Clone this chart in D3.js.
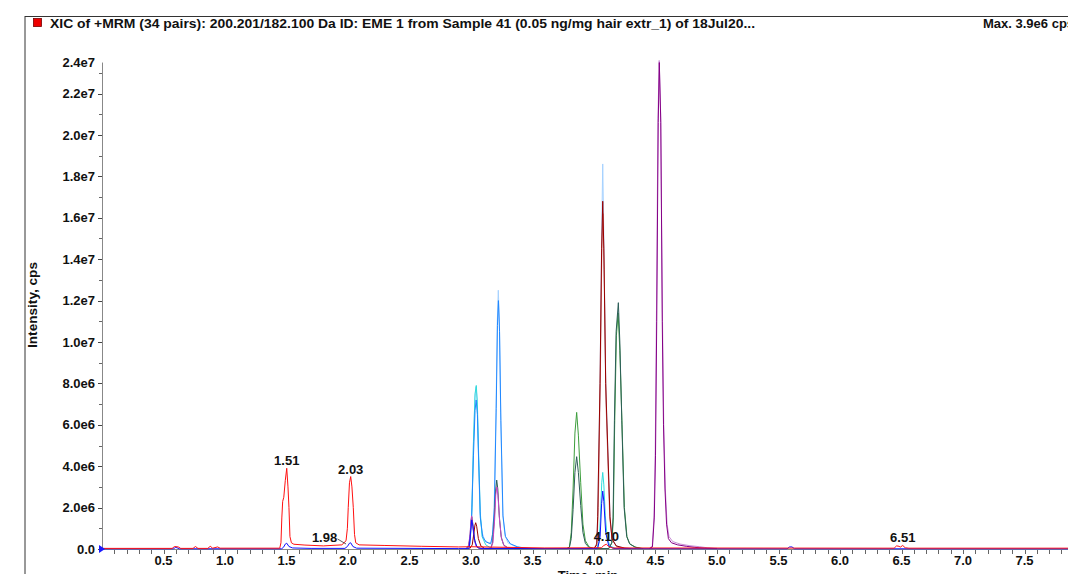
<!DOCTYPE html>
<html>
<head>
<meta charset="utf-8">
<script src="https://d3js.org/d3.v7.min.js"></script>
<style>
  body { margin: 0; background: #fff; }
  text { font-family: "Liberation Sans", Arial, sans-serif; font-weight: bold; fill: #111; }
</style>
</head>
<body>
<div id="chart"></div>
<script>
// chromatogram traces: [time (min), intensity (cps)]
var redTrace = [[0.0,3e4],[0.57,3e4],[0.59,1.2e5],[0.62,1e5],[0.64,3e4],[0.74,3e4],[0.76,1.2e5],[0.78,3e4],[0.86,3e4],[0.88,1.3e5],[0.9,4e4],[0.94,1e5],[0.96,4e4],
  [1.445,4e4],[1.455,3e5],[1.462,1.5e6],[1.469,2.3e6],[1.478,2.5e6],[1.49,3.3e6],[1.502,3.9e6],[1.512,3.0e6],[1.52,2.0e6],[1.528,6e5],[1.54,3e5],[1.56,2.3e5],
  [1.65,1.9e5],[1.8,1.5e5],[1.95,2e5],[1.984,4e5],[1.995,1.0e6],[2.002,2e6],[2.012,3.2e6],[2.022,3.5e6],[2.032,3.0e6],[2.043,2e6],[2.053,7e5],[2.063,3e5],
  [2.09,2e5],[2.3,1.7e5],[2.6,1.3e5],[2.9,1e5],[3.0,1.1e5],[3.3,8e4],[3.6,5e4],[4.06,6e4],[4.08,1.7e5],[4.10,2.3e5],[4.12,1.2e5],[4.15,5e4],
  [6.44,4e4],[6.46,1.5e5],[6.48,1.3e5],[6.49,9e4],[6.51,1.7e5],[6.53,6e4],[6.56,4e4],[7.9,4e4]];
var blueTrace = [[0,1e4],[0.58,1e4],[0.6,8e4],[0.63,1e4],[1.46,1e4],[1.475,8e4],[1.492,2.5e5],[1.502,2.8e5],[1.52,1.2e5],[1.55,5e4],[1.7,3e4],[1.975,3e4],
  [1.995,1.2e5],[2.012,2.8e5],[2.022,3e5],[2.04,1.2e5],[2.07,4e4],[2.9,2e4],[2.985,2e4],[2.998,9e5],[3.006,1.4e6],[3.016,1.1e6],[3.03,4e5],[3.05,8e4],[3.08,2e4],
  [4.03,2e4],[4.05,6e5],[4.062,2.2e6],[4.071,2.8e6],[4.08,2.3e6],[4.095,8e5],[4.12,1.5e5],[4.16,2e4],[5.57,1e4],[5.59,1e5],[5.61,1e5],[5.63,1e4],[7.9,1e4]];
var lightBlueTrace = [[2.96,2e4],[2.985,1e5],[2.995,6e5],[3.006,1.7e6],[3.019,4.9e6],[3.032,7.3e6],[3.041,7.84e6],[3.05,7.2e6],[3.059,4.9e6],[3.073,1.7e6],
  [3.09,8e5],[3.11,4.5e5],[3.14,3e5],[3.165,3e5],[3.176,8e5],[3.187,1.7e6],[3.203,6.6e6],[3.214,11e6],[3.222,12.5e6],[3.231,11e6],[3.241,6.6e6],[3.258,1.7e6],
  [3.275,7e5],[3.3,3e5],[3.35,1.5e5],[3.41,6e4],[3.5,2e4],
  [4.0,2e4],[4.022,2e5],[4.03,1.6e6],[4.049,8e6],[4.062,15e6],[4.071,18.6e6],[4.08,15e6],[4.095,8e6],[4.13,1.6e6],[4.146,5e5],[4.18,1.5e5],[4.25,5e4],[4.35,2e4]];
var dodgerTrace = [[2.96,2e4],[2.99,2e5],[3.005,1.5e6],[3.02,4.5e6],[3.033,6.7e6],[3.042,7.2e6],[3.052,6.5e6],[3.062,4.3e6],[3.076,1.5e6],[3.095,6e5],
  [3.12,3.5e5],[3.16,2.5e5],[3.175,7e5],[3.19,2e6],[3.205,6.8e6],[3.215,10.8e6],[3.223,12.0e6],[3.232,10.5e6],[3.243,6.2e6],[3.26,1.6e6],[3.28,6e5],
  [3.32,2.5e5],[3.38,1e5],[3.45,4e4],[3.52,1e4]];
var cyanTrace = [[2.97,2e4],[2.995,5e5],[3.008,2e6],[3.02,5.2e6],[3.033,7.5e6],[3.043,7.9e6],[3.052,7.0e6],[3.062,4.6e6],[3.075,1.8e6],[3.09,6e5],[3.12,2e5],
  [3.16,5e4],[3.2,2e4],[4.02,2e4],[4.04,3e5],[4.052,1.5e6],[4.063,3.2e6],[4.071,3.7e6],[4.08,3.1e6],[4.092,1.6e6],[4.108,5e5],[4.13,1.5e5],[4.17,3e4]];
var tealTrace = [[2.96,2e4],[2.98,1e5],[2.992,6e5],[3.0,1.3e6],[3.006,1.56e6],[3.013,1.3e6],[3.025,6e5],[3.04,2e5],[3.06,5e4],[3.1,2e4],
  [3.16,2e4],[3.175,3e5],[3.19,1.5e6],[3.2,2.8e6],[3.209,3.33e6],[3.218,2.9e6],[3.23,1.6e6],[3.245,6e5],[3.265,2e5],[3.3,5e4],[3.35,2e4],
  [3.78,2e4],[3.80,8e4],[3.815,5e5],[3.83,1.9e6],[3.845,3.7e6],[3.859,4.46e6],[3.873,3.7e6],[3.892,2.1e6],[3.91,8e5],[3.93,2.7e5],[3.96,7e4],[4.0,2e4],
  [4.12,2e4],[4.144,3e5],[4.155,1.5e6],[4.166,6.2e6],[4.18,10.5e6],[4.198,11.9e6],[4.21,10e6],[4.226,6.2e6],[4.245,2e6],[4.266,6e5],[4.29,2.5e5],
  [4.33,1e5],[4.38,3e4]];
var greenTrace = [[3.78,2e4],[3.80,1e5],[3.815,8e5],[3.83,2.9e6],[3.845,5.6e6],[3.859,6.6e6],[3.873,5.5e6],[3.892,3.2e6],[3.91,1.2e6],[3.93,4e5],[3.96,1e5],
  [4.0,2e4],[4.12,2e4],[4.146,3e5],[4.157,1.5e6],[4.168,6e6],[4.182,10.3e6],[4.196,11.4e6],[4.21,9.6e6],[4.228,6e6],[4.247,2e6],[4.268,6e5],[4.29,2.5e5],
  [4.34,8e4],[4.4,2e4]];
var magentaTrace = [[2.96,2e4],[2.98,1.5e5],[2.992,7e5],[3.0,1.4e6],[3.005,1.6e6],[3.012,1.3e6],[3.024,5e5],[3.04,1.5e5],[3.07,2e4],
  [3.16,2e4],[3.178,3e5],[3.192,1.4e6],[3.201,2.6e6],[3.21,3.0e6],[3.219,2.6e6],[3.232,1.4e6],[3.248,5e5],[3.27,1.5e5],[3.31,2e4]];
var darkRedTrace = [[2.99,2e4],[3.01,2e5],[3.022,7e5],[3.032,1.15e6],[3.038,1.27e6],[3.046,1.1e6],[3.06,5e5],[3.08,1.5e5],[3.11,3e4],
  [4.0,2e4],[4.022,2e5],[4.03,1.56e6],[4.049,8e6],[4.062,14.5e6],[4.071,16.8e6],[4.08,14.5e6],[4.095,8e6],[4.13,1.56e6],[4.146,5e5],[4.18,1.5e5],
  [4.25,4e4],[4.3,2e4]];
var rosyTrace = [[4.0,2e4],[4.025,3e5],[4.035,2e6],[4.052,8.5e6],[4.064,14.5e6],[4.073,16.2e6],[4.083,13.5e6],[4.098,7e6],[4.128,1.5e6],[4.15,4e5],
  [4.19,1e5],[4.26,2e4]];
var purpleTrace = [[4.45,2e4],[4.475,1e5],[4.49,1.5e6],[4.50,4.5e6],[4.51,11e6],[4.522,20.6e6],[4.531,23.5e6],[4.543,20.6e6],[4.555,11e6],[4.565,6e6],
  [4.577,2.9e6],[4.59,1.2e6],[4.605,5e5],[4.63,3e5],[4.68,2e5],[4.75,1.3e5],[4.82,8e4],[4.9,4e4],[5.0,2e4]];
var lilacTrace = [[4.45,3e4],[4.474,1.5e5],[4.488,1.6e6],[4.498,4.8e6],[4.508,11.5e6],[4.52,20.8e6],[4.53,23.6e6],[4.542,21e6],[4.556,11.5e6],[4.567,6e6],
  [4.58,2.9e6],[4.594,1.2e6],[4.61,6e5],[4.64,3.6e5],[4.7,2.4e5],[4.78,1.6e5],[4.86,1.1e5],[4.92,6e4],[5.0,3e4]];

// draw order (back to front) and colours
var traces = [lilacTrace, purpleTrace, lightBlueTrace, cyanTrace, dodgerTrace, greenTrace, tealTrace, magentaTrace, rosyTrace, darkRedTrace, blueTrace, redTrace];
var traceColors = ["#c88fd8", "#850085", "#a6d2ff", "#30dcdc", "#2088ff", "#3c9e3c", "#2c5e58", "#c844c8", "#cc8080", "#990000", "#1010ff", "#ff1010"];

// axes
var yTickValues = [0, 2e6, 4e6, 6e6, 8e6, 1e7, 1.2e7, 1.4e7, 1.6e7, 1.8e7, 2.0e7, 2.2e7];
var yTickLabels = ["0.0", "2.0e6", "4.0e6", "6.0e6", "8.0e6", "1.0e7", "1.2e7", "1.4e7", "1.6e7", "1.8e7", "2.0e7", "2.2e7"];
var yMax = 2.35e7, yTopLabel = "2.4e7";
var xTickValues = [0.5, 1.0, 1.5, 2.0, 2.5, 3.0, 3.5, 4.0, 4.5, 5.0, 5.5, 6.0, 6.5, 7.0, 7.5];
var xMax = 7.9;

// peak labels on the red trace
var peakTimes = [1.502, 2.022, 4.10, 6.51];
var peakHeights = [3.9e6, 3.5e6, 2.3e5, 1.7e5];
var peakTexts = ["1.51", "2.03", "4.10", "6.51"];

var titleText = "XIC of +MRM (34 pairs): 200.201/182.100 Da ID: EME 1 from Sample 41 (0.05 ng/mg hair extr_1) of 18Jul20...";
var maxText = "Max. 3.9e6 cps.";

var W = 1068, H = 574;
var svg = d3.select("#chart").append("svg")
  .attr("width", W).attr("height", H);

var x = d3.scaleLinear().domain([0, xMax]).range([102, 102 + xMax * 123]);
var y = d3.scaleLinear().domain([0, yMax]).range([549, 549 - yMax / 1e7 * 207]);

// frame
svg.append("line").attr("x1", 25).attr("x2", 25).attr("y1", 16).attr("y2", H)
  .attr("stroke", "#333").attr("stroke-width", 1);
svg.append("line").attr("x1", 25).attr("x2", W).attr("y1", 16.5).attr("y2", 16.5)
  .attr("stroke", "#333").attr("stroke-width", 1);

// header
svg.append("rect").attr("x", 33.5).attr("y", 18.5).attr("width", 8).attr("height", 8)
  .attr("fill", "#ee0000").attr("stroke", "#700").attr("stroke-width", 0.8);
svg.append("text").attr("x", 50).attr("y", 28).style("font-size", "12.5px")
  .attr("textLength", 705).attr("lengthAdjust", "spacingAndGlyphs").text(titleText);
svg.append("text").attr("x", 983).attr("y", 28).style("font-size", "13px").text(maxText);

// y axis
var yAxis = svg.append("g").attr("transform", "translate(" + x(0) + ",0)");
yAxis.append("line").attr("x1", 0.5).attr("x2", 0.5).attr("y1", y(yMax)).attr("y2", y(0))
  .attr("stroke", "#888");
var yMinor = d3.range(1, 24, 2).map(function(d) { return d * 1e6; }).filter(function(d) { return d < yMax; });
yAxis.selectAll(".yminor").data(yMinor).enter().append("line")
  .attr("x1", -3).attr("x2", 0).attr("y1", function(d) { return Math.round(y(d)) + 0.5; })
  .attr("y2", function(d) { return Math.round(y(d)) + 0.5; }).attr("stroke", "#666");
yAxis.selectAll(".ymajor").data(yTickValues).enter().append("line")
  .attr("x1", -4).attr("x2", 0).attr("y1", function(d) { return Math.round(y(d)) + 0.5; })
  .attr("y2", function(d) { return Math.round(y(d)) + 0.5; }).attr("stroke", "#444");
yAxis.selectAll(".ylab").data(yTickValues).enter().append("text")
  .attr("x", -7).attr("y", function(d) { return y(d); }).attr("dy", "0.35em")
  .attr("text-anchor", "end").style("font-size", "13px")
  .text(function(d, i) { return yTickLabels[i]; });
yAxis.append("text").attr("x", -7).attr("y", y(yMax)).attr("dy", "0.35em")
  .attr("text-anchor", "end").style("font-size", "13px").text(yTopLabel);

svg.append("text").attr("transform", "translate(37,305) rotate(-90)")
  .attr("text-anchor", "middle").style("font-size", "13px")
  .attr("textLength", 86).attr("lengthAdjust", "spacingAndGlyphs").text("Intensity, cps");

// x axis
var xAxis = svg.append("g");
xAxis.append("line").attr("x1", x(0)).attr("x2", W).attr("y1", 549.5).attr("y2", 549.5)
  .attr("stroke", "#888");
var xMinor = d3.range(1, 79).map(function(d) { return d / 10; });
xAxis.selectAll(".xminor").data(xMinor).enter().append("line")
  .attr("x1", function(d) { return Math.round(x(d)) + 0.5; })
  .attr("x2", function(d) { return Math.round(x(d)) + 0.5; })
  .attr("y1", 550).attr("y2", 554).attr("stroke", "#666");
xAxis.selectAll(".xlab").data(xTickValues).enter().append("text")
  .attr("x", function(d) { return x(d); }).attr("y", 565)
  .attr("text-anchor", "middle").style("font-size", "13px")
  .text(function(d) { return d.toFixed(1); });
svg.append("text").attr("x", 588).attr("y", 580).attr("text-anchor", "middle")
  .style("font-size", "13px").text("Time, min");

// traces
var line = d3.line()
  .x(function(d) { return x(d[0]); })
  .y(function(d) { return y(d[1]); });
svg.append("g").selectAll("path").data(traces).enter().append("path")
  .attr("d", line)
  .attr("fill", "none")
  .attr("stroke", function(d, i) { return traceColors[i]; })
  .attr("stroke-width", 1);

// origin marker
svg.append("path").attr("d", "M" + (x(0) - 3) + "," + 545 + "L" + (x(0) + 3) + "," + 549 + "L" + (x(0) - 3) + "," + 553 + "Z")
  .attr("fill", "#1a1aff");

// peak labels
svg.selectAll(".peaklab").data(peakTimes).enter().append("text")
  .attr("x", function(d) { return x(d); })
  .attr("y", function(d, i) { return y(peakHeights[i]) - 3; })
  .attr("text-anchor", "middle").style("font-size", "13px")
  .text(function(d, i) { return peakTexts[i]; });
// 1.98 label with leader line to the blue peak
svg.append("text").attr("x", x(1.98) - 21).attr("y", 542).attr("text-anchor", "middle")
  .style("font-size", "13px").text("1.98");
svg.append("line").attr("x1", x(1.98) - 8).attr("y1", 539).attr("x2", x(1.98) + 0.5).attr("y2", 544)
  .attr("stroke", "#333").attr("stroke-width", 0.8);
</script>
</body>
</html>
